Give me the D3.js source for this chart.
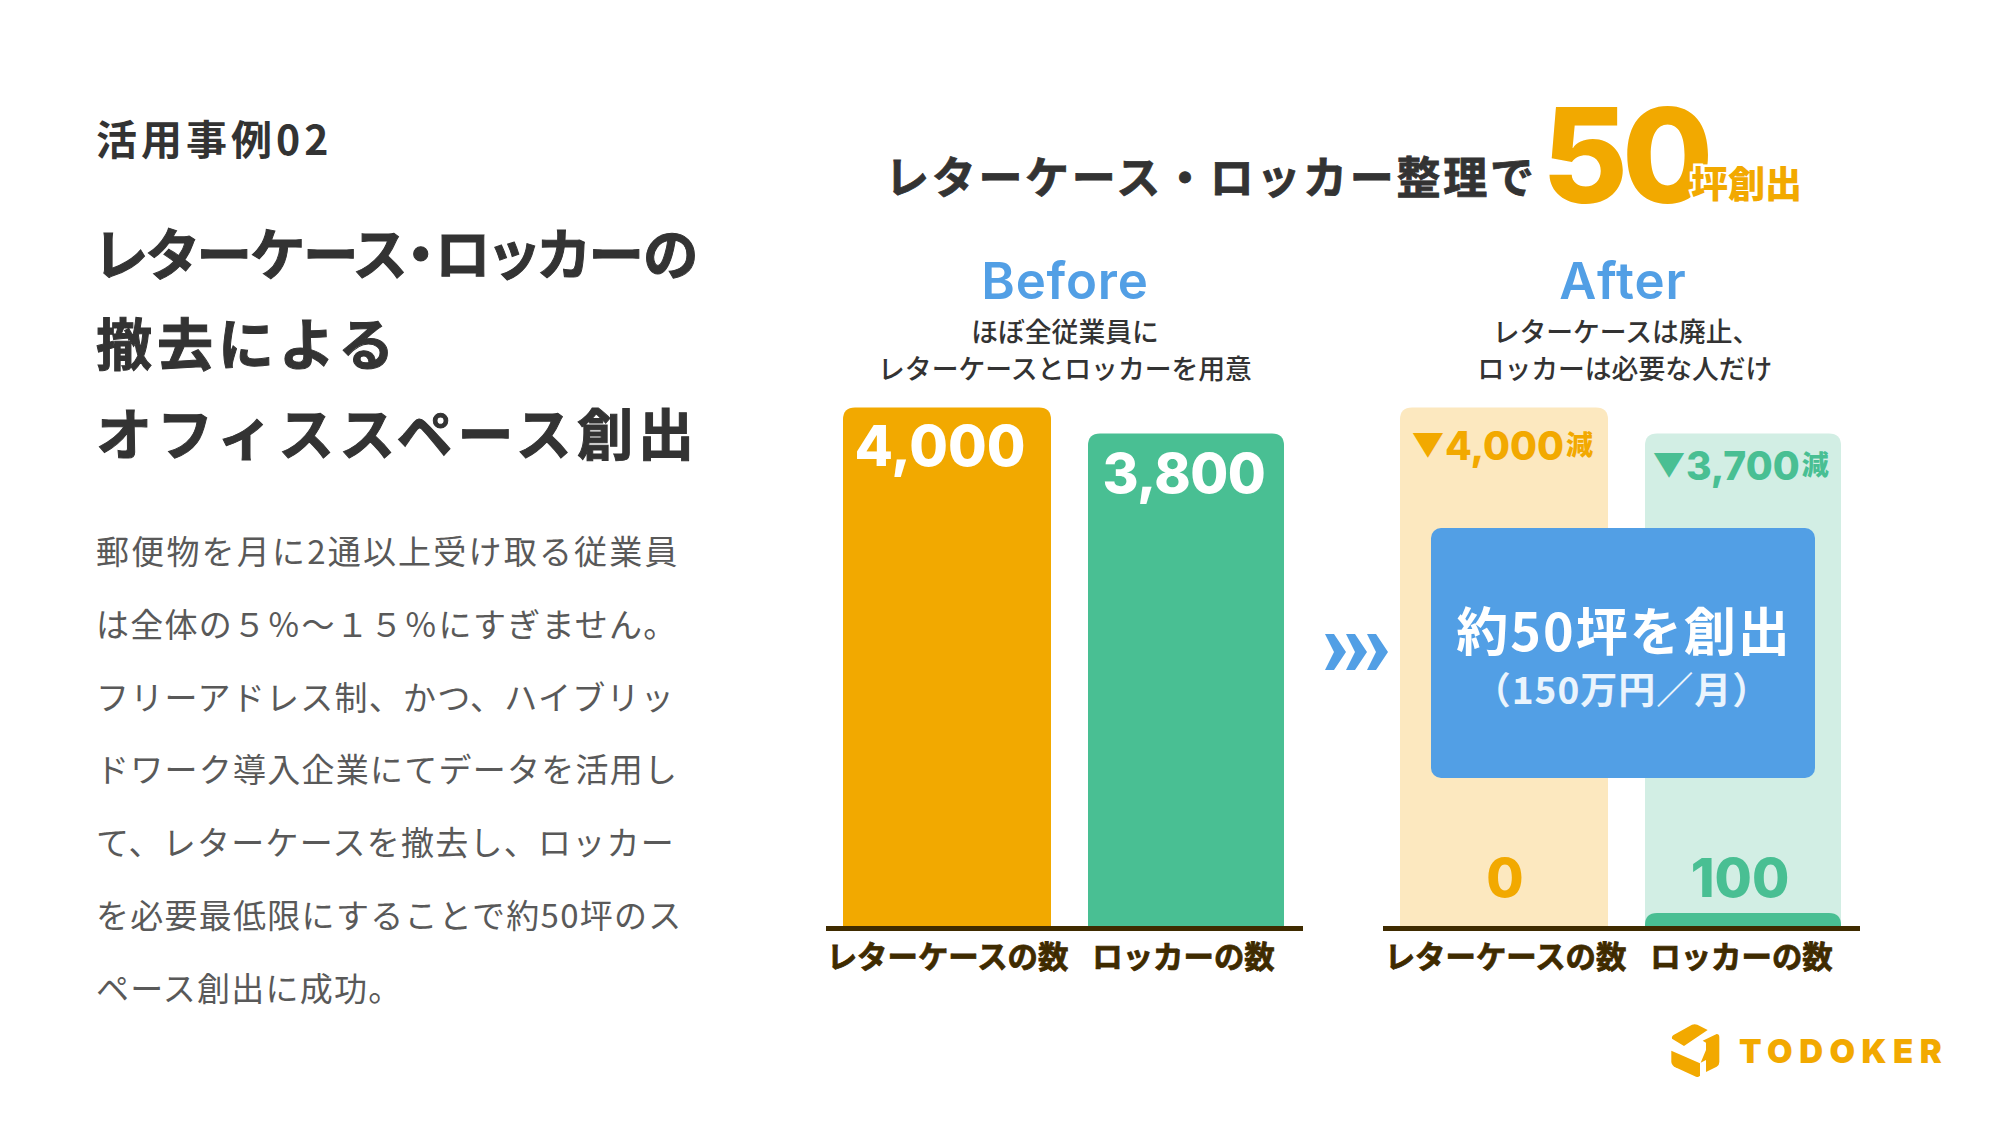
<!DOCTYPE html>
<html>
<head>
<meta charset="utf-8">
<script src="https://cdn.jsdelivr.net/npm/d3@7"></script>
<style>
  html, body { margin: 0; padding: 0; background: #fff; }
  svg { display: block; }
  text { font-family: "Noto Sans CJK JP", sans-serif; }
  .num { font-family: Inter, "Noto Sans CJK JP", sans-serif; }
</style>
</head>
<body>
<svg id="chart" width="2000" height="1125"></svg>
<script>
// values
var categories = ["レターケースの数", "ロッカーの数"];
var beforeValues = [4000, 3800];
var afterValues = [0, 100];
var reducedValues = [4000, 3700];

var bodyLines = [
  "郵便物を月に2通以上受け取る従業員",
  "は全体の５％～１５％にすぎません。",
  "フリーアドレス制、かつ、ハイブリッ",
  "ドワーク導入企業にてデータを活用し",
  "て、レターケースを撤去し、ロッカー",
  "を必要最低限にすることで約50坪のス",
  "ペース創出に成功。"
];

var ORANGE = "#f2a900", GREEN = "#49bf93", BLUE = "#529fe5", BROWN = "#3f2b00", INK = "#333333";
var svg = d3.select("#chart");

function addText(str, x, y, size, weight, fill, anchor, spacing) {
  return svg.append("text")
    .attr("x", x).attr("y", y)
    .attr("font-size", size).attr("font-weight", weight)
    .attr("fill", fill)
    .attr("text-anchor", anchor || "start")
    .attr("dominant-baseline", "central")
    .style("letter-spacing", (spacing || 0) + "px")
    .text(str);
}

// the reference's bold is a bit heavier than the installed one
function thicken(sel, color, w) {
  return sel.attr("stroke", color).attr("stroke-width", w);
}

// left column
addText("活用事例02", 96, 137, 41, 700, INK, "start", 4);
thicken(addText("レターケース・ロッカーの", 95, 251, 55.5, 700, INK).style("font-feature-settings", '"palt" 1'), INK, 1);
thicken(addText("撤去による", 96, 340, 56, 700, INK, "start", 5), INK, 1);
thicken(addText("オフィススペース創出", 96, 430, 56, 700, INK, "start", 5.1), INK, 1);

svg.append("g").selectAll("text")
  .data(bodyLines)
  .join("text")
  .attr("x", 96)
  .attr("y", (d, i) => 550 + i * 72.8)
  .attr("font-size", 33)
  .attr("fill", "#595959")
  .attr("dominant-baseline", "central")
  .style("letter-spacing", (d, i) => i == 0 ? "2.2px" : "1.25px")
  .text(d => d);

// chart title
thicken(addText("レターケース・ロッカー整理で", 885, 175, 44, 700, INK, "start", 2.7), INK, 0.8);
addText("50", 1542, 155, 132, 800, ORANGE, "start", -6).attr("class", "num");
addText("坪創出", 1691, 182, 37, 900, ORANGE)
  .attr("stroke", "#fff").attr("stroke-width", 5)
  .style("paint-order", "stroke");

// shared value scale, both panels stand on the same baseline
var y = d3.scaleLinear().domain([0, 4000]).range([926, 407.5]);

// square bottom, rounded top
function barPath(x0, w, top, bottom, r) {
  var p = d3.path();
  var rr = Math.min(r, bottom - top);
  p.moveTo(x0, bottom);
  p.lineTo(x0, top + rr);
  p.quadraticCurveTo(x0, top, x0 + rr, top);
  p.lineTo(x0 + w - rr, top);
  p.quadraticCurveTo(x0 + w, top, x0 + w, top + rr);
  p.lineTo(x0 + w, bottom);
  p.closePath();
  return p.toString();
}

function drawPanel(opts) {
  var left = d3.scaleOrdinal(categories, opts.lefts);
  var width = d3.scaleOrdinal(categories, opts.widths);
  var g = svg.append("g");

  if (opts.ghost) {
    g.selectAll("path.ghost")
      .data(categories)
      .join("path")
      .attr("class", "ghost")
      .attr("fill", (d, i) => opts.ghost[i])
      .attr("d", (d, i) => barPath(left(d), width(d), y(opts.ghostValues[i]), y(0), 12));
  }

  g.selectAll("path.bar")
    .data(categories)
    .join("path")
    .attr("class", "bar")
    .attr("fill", (d, i) => i == 0 ? ORANGE : GREEN)
    .attr("d", (d, i) => barPath(left(d), width(d), y(opts.values[i]), y(0), 12));

  // category labels come from the axis
  var axisScale = d3.scaleOrdinal(categories, opts.labelCenters);
  var axis = svg.append("g")
    .attr("transform", "translate(0,933)")
    .call(d3.axisBottom(axisScale).tickSize(0).tickPadding(22));
  axis.select(".domain").remove();
  axis.selectAll("text")
    .attr("font-family", null)
    .attr("font-size", 30.4)
    .attr("font-weight", 700)
    .attr("fill", BROWN)
    .attr("stroke", BROWN)
    .attr("stroke-width", 0.8)
    .attr("dy", null)
    .attr("dominant-baseline", "central");

  g.append("rect")
    .attr("x", opts.lineX[0]).attr("y", y(0))
    .attr("width", opts.lineX[1] - opts.lineX[0]).attr("height", 5)
    .attr("fill", BROWN);
}

drawPanel({
  lefts: [843, 1088], widths: [208, 196],
  values: beforeValues,
  labelCenters: [947, 1183],
  lineX: [826, 1303]
});
drawPanel({
  lefts: [1400, 1645], widths: [208, 196],
  values: afterValues,
  ghost: ["#fce8bf", "#d2eee4"],
  ghostValues: [afterValues[0] + reducedValues[0], afterValues[1] + reducedValues[1]],
  labelCenters: [1505, 1741],
  lineX: [1383, 1860]
});

var fmt = d3.format(",");

// panel headings
addText("Before", 1065, 280, 51, 600, BLUE, "middle", 0.8).attr("class", "num");
addText("After", 1623, 280, 51, 600, BLUE, "middle", 1).attr("class", "num");
addText("ほぼ全従業員に", 1065, 330, 26.8, 500, INK, "middle");
addText("レターケースとロッカーを用意", 1065, 367, 26.8, 500, INK, "middle");
addText("レターケースは廃止、", 1626, 330, 26.8, 500, INK, "middle");
addText("ロッカーは必要な人だけ", 1625, 367, 26.8, 500, INK, "middle");

// value labels
addText(fmt(beforeValues[0]), 940, 446, 56, 800, "#fff", "middle").attr("class", "num");
addText(fmt(beforeValues[1]), 1184, 473, 55, 800, "#fff", "middle", -0.5).attr("class", "num");
addText(fmt(afterValues[0]), 1505, 877, 54, 800, ORANGE, "middle").attr("class", "num");
addText(fmt(afterValues[1]), 1740, 877, 54, 800, GREEN, "middle").attr("class", "num");

// reduction labels
function reductionLabel(v, x, yy, color) {
  var t = addText("", x, yy, 39, 800, color).attr("class", "num");
  t.append("tspan").attr("font-size", 32).text("▼");
  t.append("tspan").text(fmt(v));
  t.append("tspan").attr("font-size", 27).attr("dx", 2).text("減");
}
reductionLabel(reducedValues[0], 1411, 445, ORANGE);
reductionLabel(reducedValues[1], 1652, 465, GREEN);

// callout over the after panel
svg.append("rect")
  .attr("x", 1431).attr("y", 528)
  .attr("width", 384).attr("height", 250)
  .attr("rx", 10)
  .attr("fill", BLUE);
addText("約50坪を創出", 1624, 628, 52, 700, "#fff", "middle", 2);
addText("（150万円／月）", 1622, 688, 37, 700, "#eaf4fd", "middle", 1);

// chevrons between panels
var chevrons = [1325, 1346, 1367];
svg.append("g").selectAll("path")
  .data(chevrons)
  .join("path")
  .attr("fill", BLUE)
  .attr("d", d => {
    var p = d3.path();
    p.moveTo(d, 634);
    p.lineTo(d + 9, 634);
    p.lineTo(d + 21, 652);
    p.lineTo(d + 9, 670);
    p.lineTo(d, 670);
    p.lineTo(d + 9, 652);
    p.closePath();
    return p.toString();
  });

// logo
var logo = svg.append("g").attr("fill", ORANGE).attr("transform", "translate(1660,1010) scale(0.3333)");
logo.append("path").attr("d", "M36,86 Q34,78 42,74 L96,44 Q104,41 112,44 L143,60 L72,108 Z");
logo.append("path").attr("d", "M34,122 L120,160 L120,196 Q118,203 108,200 L46,172 Q35,166 34,156 Z");
logo.append("path").attr("d", "M128,92 L170,72 Q178,72 178,82 L178,156 Q178,166 170,170 L138,186 L138,150 L122,158 L138,120 L138,98 Z");
addText("TODOKER", 1739, 1051, 33, 900, ORANGE, "start", 6.5).attr("class", "num");
</script>
</body>
</html>
